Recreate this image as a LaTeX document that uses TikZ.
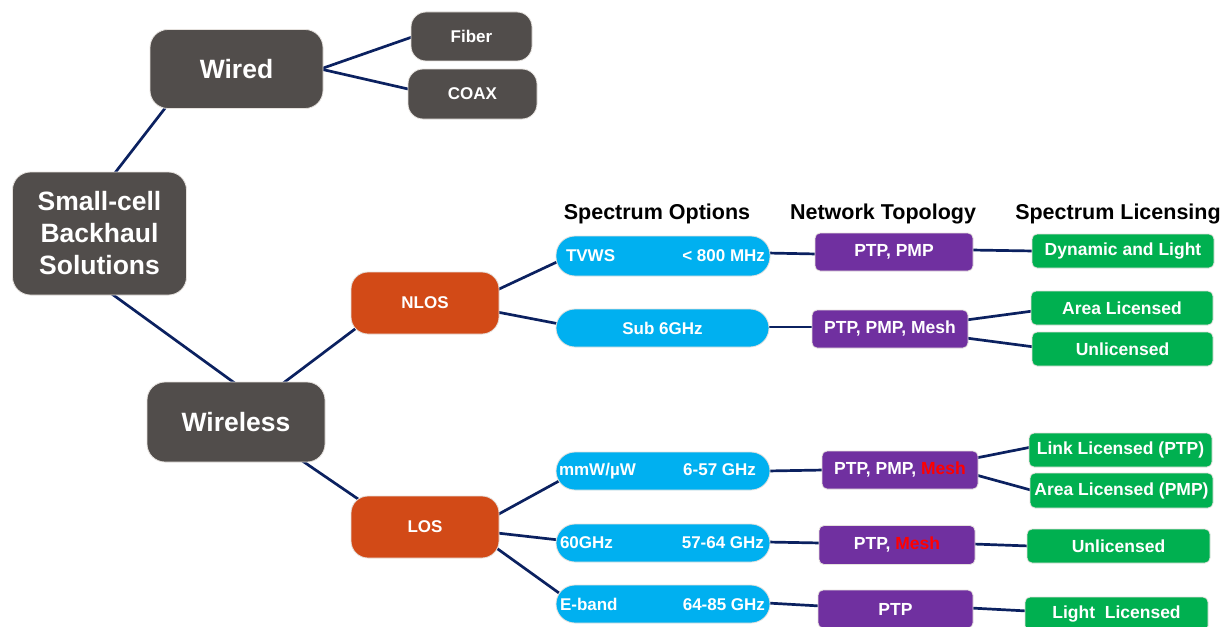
\documentclass[tikz,border=0pt]{standalone}
\usepackage{fontspec}
\setmainfont{Liberation Sans}
\usetikzlibrary{calc}
\pgfdeclarelayer{background}
\pgfsetlayers{background,main}
\definecolor{dgray}{HTML}{514D4B}
\definecolor{orng}{HTML}{D24A17}
\definecolor{cyanb}{HTML}{00B0F0}
\definecolor{purp}{HTML}{7030A0}
\definecolor{grn}{HTML}{00B050}
\definecolor{navy}{HTML}{0B2160}
\definecolor{meshred}{HTML}{FF0000}
\definecolor{edgec}{HTML}{E6E2DE}
\tikzset{
  base/.style={inner sep=0pt, outer sep=0pt, text=white, align=center, draw=edgec, line width=0.8pt},
  gbox/.style={base, fill=dgray, rounded corners=18pt},
  obox/.style={base, fill=orng, rounded corners=17pt, font=\fontsize{17}{20}\selectfont\bfseries},
  pill/.style={base, fill=cyanb, rounded corners=19pt, font=\fontsize{17}{20}\selectfont\bfseries},
  pbox/.style={base, fill=purp, rounded corners=5pt, font=\fontsize{17.5}{20}\selectfont\bfseries},
  lbox/.style={base, fill=grn, rounded corners=5pt, font=\fontsize{17.5}{20}\selectfont\bfseries},
  hdr/.style={inner sep=0pt, text=black, font=\fontsize{21.5}{24}\selectfont\bfseries},
  conn/.style={draw=navy, line width=2.7pt}
}
\begin{document}
\begin{tikzpicture}[x=1pt,y=-1pt]
\useasboundingbox (0,0) rectangle (1225,626);
% level 0/1
\node[gbox, minimum width=174pt, minimum height=123pt, font=\fontsize{26.5}{32}\selectfont\bfseries] (sc) at (99.5,233.5) {Small-cell\\Backhaul\\Solutions};
\node[gbox, minimum width=173pt, minimum height=79pt, font=\fontsize{26.5}{30}\selectfont\bfseries] (wired) at (236.5,69) {Wired};
\node[gbox, minimum width=121pt, minimum height=49pt, rounded corners=15pt, font=\fontsize{17}{20}\selectfont\bfseries] (fiber) at (471.5,36.5) {Fiber};
\node[gbox, minimum width=129pt, minimum height=50pt, rounded corners=15pt, font=\fontsize{17}{20}\selectfont\bfseries] (coax) at (472.5,94) {COAX};
\node[gbox, minimum width=178pt, minimum height=80pt, font=\fontsize{26.5}{30}\selectfont\bfseries] (wireless) at (236,422) {Wireless};
\node[obox, minimum width=148pt, minimum height=62pt] (nlos) at (425,303) {NLOS};
\node[obox, minimum width=148pt, minimum height=62pt] (los) at (425,527) {LOS};
% headers
\node[hdr] (h1) at (657,214) {Spectrum Options};
\node[hdr] (h2) at (883,214) {Network Topology};
\node[hdr] (h3) at (1118,214) {Spectrum Licensing};
% spectrum pills
\node[pill, minimum width=214pt, minimum height=40pt] (tvws) at (663,256) {\makebox[214pt]{\hspace{10pt}TVWS\hfill< 800 MHz\hspace{5pt}}};
\node[pill, minimum width=213pt, minimum height=38pt] (sub6) at (662.5,328) {Sub 6GHz};
\node[pill, minimum width=214pt, minimum height=38pt] (mmw) at (663,471) {\makebox[214pt]{\hspace{3pt}mmW/µW\hfill 6-57 GHz\hspace{14pt}}};
\node[pill, minimum width=214pt, minimum height=38pt] (g60) at (663,543) {\makebox[214pt]{\hspace{4pt}60GHz\hfill 57-64 GHz\hspace{6pt}}};
\node[pill, minimum width=214pt, minimum height=38pt] (eband) at (663,604) {\makebox[214pt]{\hspace{4pt}E-band\hfill 64-85 GHz\hspace{5pt}}};
% topology
\node[pbox, minimum width=158pt, minimum height=38pt] (t1) at (894,252) {PTP, PMP};
\node[pbox, minimum width=156pt, minimum height=38pt] (t2) at (890,329) {PTP, PMP, Mesh};
\node[pbox, minimum width=156pt, minimum height=38pt] (t3) at (900,470) {PTP, PMP, \textcolor{meshred}{Mesh}};
\node[pbox, minimum width=156pt, minimum height=39pt] (t4) at (897,545) {PTP, \textcolor{meshred}{Mesh}};
\node[pbox, minimum width=155pt, minimum height=38pt] (t5) at (895.5,609) {PTP};
% licensing
\node[lbox, minimum width=182pt, minimum height=34pt] (l1) at (1123,251) {Dynamic and Light};
\node[lbox, minimum width=182pt, minimum height=34pt] (l2) at (1122,308) {Area Licensed};
\node[lbox, minimum width=181pt, minimum height=34pt] (l3) at (1122.5,349) {Unlicensed};
\node[lbox, minimum width=183pt, minimum height=34pt] (l4) at (1120.5,450) {Link Licensed (PTP)};
\node[lbox, minimum width=183pt, minimum height=35pt] (l5) at (1121.5,490.5) {Area Licensed (PMP)};
\node[lbox, minimum width=183pt, minimum height=34pt] (l6) at (1118.5,546) {Unlicensed};
\node[lbox, minimum width=183pt, minimum height=34pt] (l7) at (1116.5,614) {Light\ \ Licensed};
% connectors
\begin{pgfonlayer}{background}
\fill[white] (0,0) rectangle (1225,626);
\draw[conn] ($(sc)+(15,-60)$) -- ($(wired)+(-69,36)$);
\draw[conn] ($(wired)+(84,0)$) -- ($(fiber)+(-58,0)$);
\draw[conn] ($(wired)+(84,0)$) -- ($(coax)+(-60,-4)$);
\draw[conn] ($(sc)+(9,58)$) -- ($(wireless)+(0,-38)$);
\draw[conn] ($(wireless)+(46,-38)$) -- ($(nlos)+(-66,23)$);
\draw[conn] ($(wireless)+(65,38)$) -- ($(los)+(-64,-26)$);
\draw[conn] ($(nlos)+(72,-13)$) -- ($(tvws)+(-104,5)$);
\draw[conn] ($(nlos)+(72,9)$) -- ($(sub6)+(-103,-4)$);
\draw[conn] ($(los)+(72,-12)$) -- ($(mmw)+(-104,10)$);
\draw[conn] ($(los)+(72,6)$) -- ($(g60)+(-104,-3)$);
\draw[conn] ($(los)+(70,20)$) -- ($(eband)+(-104,-11)$);
\draw[conn] ($(tvws)+(104,-3)$) -- ($(t1)+(-77,2)$);
\draw[conn] ($(sub6)+(104,-1)$) -- ($(t2)+(-76,-2)$);
\draw[conn] ($(mmw)+(104,0)$) -- ($(t3)+(-76,0)$);
\draw[conn] ($(g60)+(104,-1)$) -- ($(t4)+(-76,-2)$);
\draw[conn] ($(eband)+(104,-1)$) -- ($(t5)+(-75,-3)$);
\draw[conn] ($(t1)+(77,-2)$) -- ($(l1)+(-89,0)$);
\draw[conn] ($(t2)+(76,-9)$) -- ($(l2)+(-89,3)$);
\draw[conn] ($(t2)+(76,9)$) -- ($(l3)+(-88,-2)$);
\draw[conn] ($(t3)+(76,-12)$) -- ($(l4)+(-89,-3)$);
\draw[conn] ($(t3)+(76,5)$) -- ($(l5)+(-89,0)$);
\draw[conn] ($(t4)+(76,-1)$) -- ($(l6)+(-89,0)$);
\draw[conn] ($(t5)+(75,-1)$) -- ($(l7)+(-89,-3)$);
\end{pgfonlayer}
\end{tikzpicture}
\end{document}
